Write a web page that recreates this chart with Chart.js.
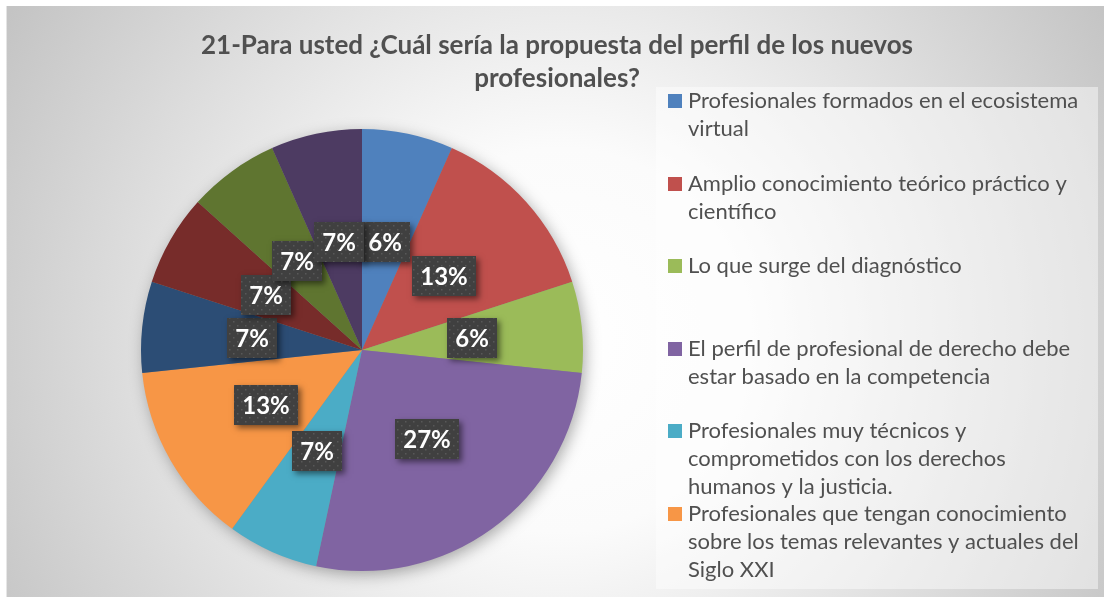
<!DOCTYPE html>
<html>
<head>
<meta charset="utf-8">
<script src="https://cdn.jsdelivr.net/npm/chart.js@4.4.1/dist/chart.umd.min.js"></script>
<style>
html, body { margin: 0; padding: 0; background: #fff; }
canvas { display: block; }
</style>
</head>
<body>
<canvas id="pieChart" width="1104" height="597"></canvas>
<script>
//========== data ==========//
const titleLines = ['21-Para usted ¿Cuál sería la propuesta del perfil de los nuevos', 'profesionales?'];

// legend texts (the reference legend is cut after the 6th entry)
const categories = [
    ['Profesionales formados en el ecosistema', 'virtual'],
    ['Amplio conocimiento teórico práctico y', 'científico'],
    ['Lo que surge del diagnóstico'],
    ['El perfil de profesional de derecho debe', 'estar basado en la competencia'],
    ['Profesionales muy técnicos y', 'comprometidos con los derechos', 'humanos y la justicia.'],
    ['Profesionales que tengan conocimiento', 'sobre los temas relevantes y actuales del', 'Siglo XXI'],
    ['Categoría 7'],
    ['Categoría 8'],
    ['Categoría 9'],
    ['Categoría 10']
];
const responses = [1, 2, 1, 4, 1, 2, 1, 1, 1, 1];
const percentLabels = ['6%', '13%', '6%', '27%', '7%', '13%', '7%', '7%', '7%', '7%'];
const sliceColors = ['#4F81BD', '#C0504D', '#9BBB59', '#8064A2', '#4BACC6', '#F79646',
                     '#2C4D75', '#772C2A', '#5F7530', '#4D3B62'];
const legendShown = 6;

//========== plugins ==========//

// chart background: radial grey gradient like the Excel style
const bgPlugin = {
    id: 'bg',
    beforeDraw(chart) {
        const ctx = chart.ctx;
        ctx.save();
        const g = ctx.createRadialGradient(560, 340, 0, 560, 340, 640);
        g.addColorStop(0, '#ffffff');
        g.addColorStop(0.3, '#fbfbfb');
        g.addColorStop(1, '#c4c4c4');
        ctx.fillStyle = g;
        ctx.fillRect(6, 6, 1098, 591);
        ctx.fillStyle = 'rgba(255,255,255,0.55)';
        ctx.fillRect(6, 6, 1, 591);
        ctx.restore();
    }
};

// soft shadow under the pie
const shadowPlugin = {
    id: 'pieShadow',
    beforeDatasetsDraw(chart) {
        const arc = chart.getDatasetMeta(0).data[0];
        if (!arc) return;
        const ctx = chart.ctx;
        ctx.save();
        ctx.shadowColor = 'rgba(0,0,0,0.35)';
        ctx.shadowBlur = 16;
        ctx.shadowOffsetX = 3;
        ctx.shadowOffsetY = 4;
        ctx.fillStyle = '#888';
        ctx.beginPath();
        ctx.arc(arc.x, arc.y, arc.outerRadius - 1, 0, Math.PI * 2);
        ctx.fill();
        ctx.restore();
    }
};

// dotted fill for the label boxes
const dotCanvas = document.createElement('canvas');
dotCanvas.width = 8;
dotCanvas.height = 8;
const dctx = dotCanvas.getContext('2d');
dctx.fillStyle = 'rgba(255,255,255,0.13)';
dctx.fillRect(1, 1, 1.5, 1.5);
dctx.fillRect(5, 5, 1.5, 1.5);

const labelPlugin = {
    id: 'pctLabels',
    afterDatasetsDraw(chart) {
        const ctx = chart.ctx;
        const meta = chart.getDatasetMeta(0);
        const pattern = ctx.createPattern(dotCanvas, 'repeat');
        ctx.save();
        ctx.font = 'bold 24px Lato';
        ctx.textAlign = 'center';
        ctx.textBaseline = 'middle';
        meta.data.forEach((arc, i) => {
            const p = arc.tooltipPosition();
            const txt = percentLabels[i];
            const w = Math.round(ctx.measureText(txt).width + 16);
            const h = 40;
            const x = Math.round(p.x - w / 2);
            const y = Math.round(p.y - h / 2);
            ctx.shadowColor = 'rgba(0,0,0,0.5)';
            ctx.shadowBlur = 6;
            ctx.shadowOffsetX = 3;
            ctx.shadowOffsetY = 3;
            ctx.fillStyle = '#404040';
            ctx.fillRect(x, y, w, h);
            ctx.shadowColor = 'transparent';
            ctx.fillStyle = pattern;
            ctx.fillRect(x, y, w, h);
            ctx.fillStyle = '#ffffff';
            ctx.fillText(txt, x + w / 2, y + h / 2 + 1);
        });
        ctx.restore();
    }
};

// title and wrapped legend drawn by hand
const sidePlugin = {
    id: 'side',
    afterDraw(chart) {
        const ctx = chart.ctx;
        ctx.save();
        ctx.fillStyle = '#505050';
        ctx.font = 'bold 26px Lato';
        ctx.textAlign = 'center';
        ctx.textBaseline = 'middle';
        ctx.fillText(titleLines[0], 557, 46);
        ctx.fillText(titleLines[1], 557, 79);

        // legend box
        ctx.fillStyle = 'rgba(255,255,255,0.45)';
        ctx.fillRect(656, 87, 442, 502);

        ctx.font = '22px Lato';
        ctx.textAlign = 'left';
        for (let i = 0; i < legendShown; i++) {
            const top = 101 + i * 82.5;
            ctx.fillStyle = sliceColors[i];
            ctx.fillRect(668, Math.round(top) - 7, 14, 14);
            ctx.fillStyle = '#505050';
            categories[i].forEach((line, j) => {
                ctx.fillText(line, 688, top + j * 28);
            });
        }
        ctx.restore();
    }
};

//========== config ==========//
const config = {
    type: 'pie',
    data: {
        labels: categories,
        datasets: [{
            data: responses,
            backgroundColor: sliceColors,
            borderWidth: 0
        }]
    },
    options: {
        responsive: false,
        animation: false,
        layout: {
            padding: { left: 141, right: 521, top: 129, bottom: 26 }
        },
        plugins: {
            legend: { display: false },
            title: { display: false },
            tooltip: { enabled: false }
        }
    },
    plugins: [bgPlugin, shadowPlugin, labelPlugin, sidePlugin]
};

// render
const pieChart = new Chart(document.getElementById('pieChart'), config);
</script>
</body>
</html>
